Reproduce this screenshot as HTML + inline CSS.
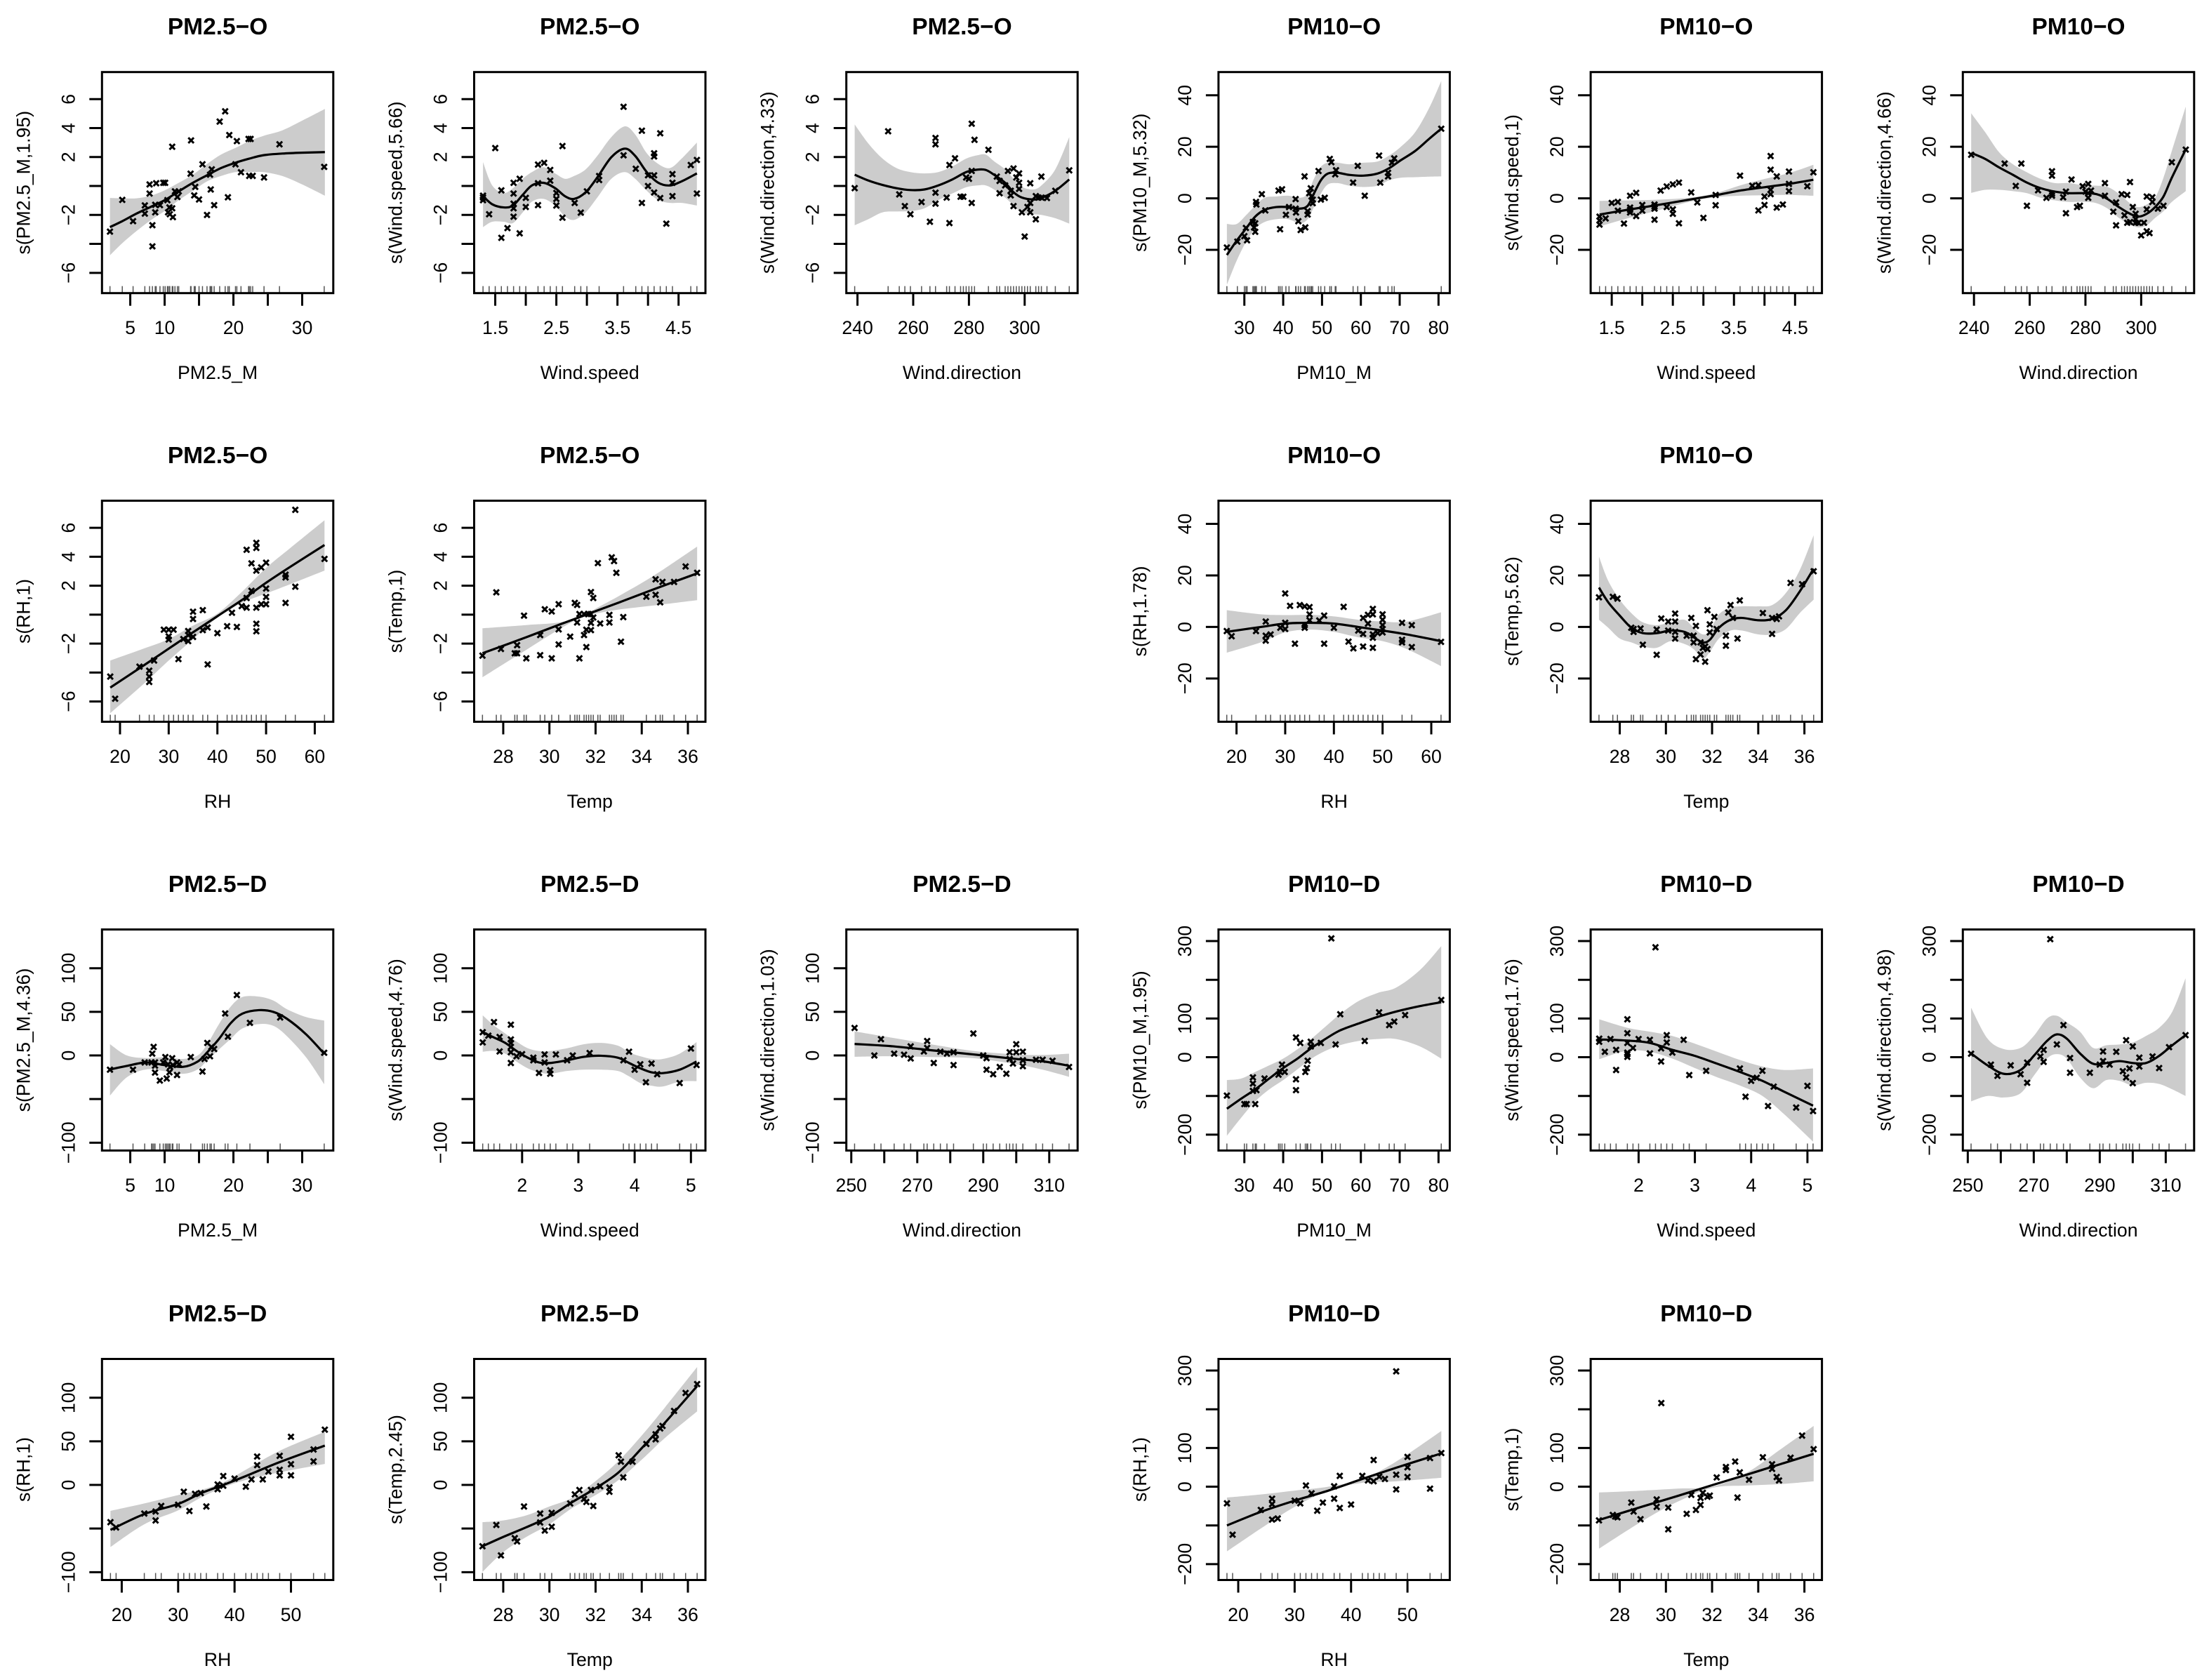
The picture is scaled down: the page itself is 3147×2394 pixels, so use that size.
<!DOCTYPE html>
<html lang="en">
<head>
<meta charset="utf-8">
<title>GAM smooth terms for PM2.5 and PM10</title>
<style>
html,body{margin:0;padding:0;background:#fff;}
svg{display:block;}
text{font-family:"Liberation Sans",Arial,sans-serif;fill:#000;font-size:26.7px;}
.title{font-size:33.5px;font-weight:bold;text-anchor:middle;}
.xlabel,.ylabel,.tick{text-anchor:middle;}
</style>
</head>
<body>
<svg id="figure" xmlns="http://www.w3.org/2000/svg" width="3147" height="2394" viewBox="0 0 3147 2394">
<rect width="3147" height="2394" fill="#fff"></rect>

<g class="panel"><text class="title">PM2.5−O</text><text class="xlabel">PM2.5_M</text><text class="ylabel">s(PM2.5_M,1.95)</text></g>
<g class="panel"><text class="title">PM2.5−O</text><text class="xlabel">Wind.speed</text><text class="ylabel">s(Wind.speed,5.66)</text></g>
<g class="panel"><text class="title">PM2.5−O</text><text class="xlabel">Wind.direction</text><text class="ylabel">s(Wind.direction,4.33)</text></g>
<g class="panel"><text class="title">PM10−O</text><text class="xlabel">PM10_M</text><text class="ylabel">s(PM10_M,5.32)</text></g>
<g class="panel"><text class="title">PM10−O</text><text class="xlabel">Wind.speed</text><text class="ylabel">s(Wind.speed,1)</text></g>
<g class="panel"><text class="title">PM10−O</text><text class="xlabel">Wind.direction</text><text class="ylabel">s(Wind.direction,4.66)</text></g>

<g class="panel"><text class="title">PM2.5−O</text><text class="xlabel">RH</text><text class="ylabel">s(RH,1)</text></g>
<g class="panel"><text class="title">PM2.5−O</text><text class="xlabel">Temp</text><text class="ylabel">s(Temp,1)</text></g>
<g class="panel"><text class="title">PM10−O</text><text class="xlabel">RH</text><text class="ylabel">s(RH,1.78)</text></g>
<g class="panel"><text class="title">PM10−O</text><text class="xlabel">Temp</text><text class="ylabel">s(Temp,5.62)</text></g>

<g class="panel"><text class="title">PM2.5−D</text><text class="xlabel">PM2.5_M</text><text class="ylabel">s(PM2.5_M,4.36)</text></g>
<g class="panel"><text class="title">PM2.5−D</text><text class="xlabel">Wind.speed</text><text class="ylabel">s(Wind.speed,4.76)</text></g>
<g class="panel"><text class="title">PM2.5−D</text><text class="xlabel">Wind.direction</text><text class="ylabel">s(Wind.direction,1.03)</text></g>
<g class="panel"><text class="title">PM10−D</text><text class="xlabel">PM10_M</text><text class="ylabel">s(PM10_M,1.95)</text></g>
<g class="panel"><text class="title">PM10−D</text><text class="xlabel">Wind.speed</text><text class="ylabel">s(Wind.speed,1.76)</text></g>
<g class="panel"><text class="title">PM10−D</text><text class="xlabel">Wind.direction</text><text class="ylabel">s(Wind.direction,4.98)</text></g>

<g class="panel"><text class="title">PM2.5−D</text><text class="xlabel">RH</text><text class="ylabel">s(RH,1)</text></g>
<g class="panel"><text class="title">PM2.5−D</text><text class="xlabel">Temp</text><text class="ylabel">s(Temp,2.45)</text></g>
<g class="panel"><text class="title">PM10−D</text><text class="xlabel">RH</text><text class="ylabel">s(RH,1)</text></g>
<g class="panel"><text class="title">PM10−D</text><text class="xlabel">Temp</text><text class="ylabel">s(Temp,1)</text></g>
</svg>

<script>
/* ---------- axis ticks and tick labels ---------- */
const ticksPm25 = [5,10,15,20,25,30];
const labelsPm25 = ["5","10","","20","","30"];
const ticksSpeedO = [1.5,2,2.5,3,3.5,4,4.5];
const labelsSpeedO = ["1.5","","2.5","","3.5","","4.5"];
const ticksDirO = [240,260,280,300];
const labelsDirO = ["240","260","280","300"];
const ticksPm10 = [30,40,50,60,70,80];
const labelsPm10 = ["30","40","50","60","70","80"];
const ticksRhO = [20,30,40,50,60];
const labelsRhO = ["20","30","40","50","60"];
const ticksTemp = [28,30,32,34,36];
const labelsTemp = ["28","30","32","34","36"];
const ticksSpeedD = [2,3,4,5];
const labelsSpeedD = ["2","3","4","5"];
const ticksDirD = [250,260,270,280,290,300,310];
const labelsDirD = ["250","","270","","290","","310"];
const ticksRhD = [20,30,40,50];
const labelsRhD = ["20","30","40","50"];

const yTicksPm25O = [6,4,2,0,-2,-4,-6];
const yLabelsPm25O = ["6","4","2","","−2","","−6"];
const yTicksPm10O = [40,20,0,-20];
const yLabelsPm10O = ["40","20","0","−20"];
const yTicksPm25D = [100,50,0,-50,-100];
const yLabelsPm25D = ["100","50","0","","−100"];
const yTicksPm10D = [300,200,100,0,-100,-200];
const yLabelsPm10D = ["300","","100","0","","−200"];

/* ---------- axis domains ---------- */
const domPm25 = [0.89,34.52];
const domSpeedO = [1.155,4.94];
const domDirO = [236,319];
const domPm10 = [23.34,82.9];
const domRhO = [16.3,63.8];
const domTemp = [26.74,36.76];
const domSpeedD = [1.148,5.258];
const domDirD = [248.5,318.6];
const domRhD = [16.5,57.5];
const yDomPm25O = [-7.4,7.87];
const yDomPm10O = [-36.8,49];
const yDomPm25D = [-109,144.5];
const yDomPm10D = [-241,330];

/* ---------- panel 1: PM2.5-O vs PM2.5_M ---------- */
const p1X = [2.05,3.84,5.41,7.12,7.12,7.81,7.81,8.77,8.22,8.22,8.63,8.63,9.32,9.8,10.07,10.4,10.5,10.7,10.75,11.1,11.2,11.1,11.5,11.85,12.05,13.77,13.84,14.45,14.3,15,15.5,16.16,16.6,16.7,16.85,17.2,18,18.8,19.2,19.4,20.3,20.5,21.1,22.2,22.5,22.3,22.8,24.45,26.7,33.2];
const p1Y = [-3.15,-.96,-2.43,-1.34,-1.91,-.52,.11,.19,-2.71,-4.17,-1.3,-1.82,-1.32,.22,.22,-.98,-1.82,-1.48,-1.95,-1.54,-2.15,2.71,-.37,-.76,-.37,.85,3.15,-.06,-.65,-.93,1.5,-2,.78,-.24,1.15,-1.32,4.45,5.16,-.78,3.52,1.5,3.1,.95,3.25,3.25,.7,.7,.59,2.88,1.32];
const p1CurveX = [2.05,3.84,5.89,7.95,10,12.05,14.1,16.16,18.2,20.3,22.3,24.4,27.1,29.9,33.3];
const p1Mean = [-2.84,-2.43,-1.91,-1.45,-.98,-.37,.22,.74,1.24,1.61,1.89,2.13,2.24,2.3,2.34];
const p1Upper = [-.83,-.85,-.85,-.67,-.3,.22,.78,1.52,2.17,2.63,3.1,3.47,3.84,4.49,5.32];
const p1Lower = [-4.79,-3.95,-3.12,-2.37,-1.73,-.98,-.33,.32,.69,.96,.96,.96,.69,.13,-.67];

/* ---------- panel 2: PM2.5-O vs Wind.speed ---------- */
const p2X = [1.3,1.3,1.3,1.4,1.5,1.6,1.6,1.7,1.8,1.8,1.8,1.8,1.8,1.9,1.9,2,2,2.2,2.2,2.2,2.3,2.4,2.4,2.5,2.5,2.5,2.6,2.6,2.8,2.9,3,3.2,3.2,3.6,3.6,3.8,3.9,3.9,4,4,4.1,4.1,4.1,4.1,4.2,4.2,4.3,4.4,4.4,4.4,4.7,4.8,4.8];
const p2Y = [-.8,-.98,-.67,-1.95,2.62,-.3,-3.58,-2.91,.22,-.52,-1.22,-1.54,-2.12,.5,-3.27,-.82,-1.45,1.48,.19,-1.32,1.6,1.11,.37,-.48,-.89,-1.35,2.76,-2.19,-1.17,-1.84,-.37,.69,.41,5.47,2.12,1.19,-1.17,3.82,.74,0,2.26,2.04,.74,-.45,3.64,-.83,-2.6,.82,.22,-.7,1.45,1.8,-.52];
const p2CurveX = [1.3,1.45,1.64,1.79,1.95,2.1,2.29,2.48,2.64,2.79,2.98,3.17,3.4,3.62,3.79,3.98,4.17,4.36,4.55,4.8];
const p2Mean = [-.7,-1.26,-1.48,-1.35,-.61,.04,.22,-.15,-.7,-.89,-.43,.59,1.99,2.58,2.08,.96,.22,.04,.32,.87];
const p2Upper = [1.65,.04,-.48,-.15,.5,.96,1.3,.87,.5,.69,1.15,2.08,3.38,4.12,3.56,2.26,1.52,1.24,1.89,3];
const p2Lower = [-2.84,-2.47,-2.47,-2.56,-1.82,-1.08,-.89,-1.35,-2.1,-2.34,-1.82,-.8,.5,.96,.5,-.33,-.98,-1.17,-1.17,-1.35];

/* ---------- panel 3: PM2.5-O vs Wind.direction ---------- */
const p3X = [239,251,255,257,259,263,266,268,268,268,268,272,273,273,275,277,278,279,280,281,281,281,282,287,290,291,291,293,294,295,295,296,296,297,298,298,298,299,300,301,302,302,302,304,304,305,306,306,308,311,316];
const p3Y = [-.15,3.78,-.58,-1.39,-1.95,-1.11,-2.47,3.32,2.88,-.46,-1.22,-.8,1.45,-2.56,1.91,-.74,-.74,.59,.5,1.04,4.3,-1.17,3.19,2.5,.65,.35,-.5,.04,1.04,-.33,-.65,1.21,-1.39,.59,.87,.22,-.2,-1.82,-3.49,-1.45,.19,-1.17,-1.82,-2.3,-.7,-.8,.65,-.8,-.83,-.33,1.08];
const p3CurveX = [239,244,249,254,259,264,269,274,279,283,286,289,293,296,299,303,306,311,316];
const p3Mean = [.78,.37,.07,-.15,-.28,-.24,.04,.45,.96,1.13,1.11,.78,.22,-.43,-.8,-.93,-.83,-.33,.45];
const p3Upper = [4.25,2.91,1.89,1.24,.96,.87,.96,1.34,1.89,2.12,2.17,1.71,1.15,.5,-.06,-.24,.04,1.15,3.38];
const p3Lower = [-2.71,-2.28,-1.82,-1.76,-1.73,-1.54,-.98,-.52,-.09,.04,.04,-.24,-.8,-1.35,-1.82,-1.95,-2,-2.23,-2.6];

/* ---------- panel 4: PM10-O vs PM10_M ---------- */
const p4X = [25.5,28.2,30.4,30,30.7,32.2,32.5,32.8,32.8,33,33.1,34.5,35.4,39.2,38.8,39.7,40.7,41.5,43.2,43.2,43.3,43.9,44.5,45.7,45.5,46.3,46.3,46.7,47.1,47.3,47.6,47.6,49.7,50.7,49.1,52,52.4,53.4,53.6,58,59.2,61,64.7,65,67,67,68,68.6,80.7];
const p4Y = [-19.1,-16.8,-11.5,-14.7,-16.3,-9.2,-11.3,-13,-9.7,-1.4,-2.4,1.6,-4.7,-12,3,3.5,-6.4,-3.4,-.3,-4,-5.5,-8.9,-12.3,-11.3,8.5,-5,-6.3,2,3.9,.7,-1.9,-.5,-.5,.2,10.6,15.3,14,9.3,10.9,6.1,12.6,1,16.6,6.1,9.9,8.5,13.8,15.5,27];
const p4CurveX = [25.5,28,30.4,32.8,35.2,38.2,41.3,44.3,46.3,47.9,49.7,51.5,54,57,60.6,64.3,67.3,70.3,74,77.6,80.7];
const p4Mean = [-22,-16.5,-11.8,-7.1,-4.5,-3.4,-3.4,-4,-2.9,1.8,7,9.6,9.9,9.1,8.8,9.6,11.7,14.8,18.4,23.1,27];
const p4Upper = [-9.9,-10,-6.6,-2.9,.2,.7,1,.2,1.8,7.5,12.2,13.8,13.8,13.2,13.8,14.3,16.6,20,25.7,35.1,45.5];
const p4Lower = [-33.6,-24.3,-17,-11.8,-9.2,-8.1,-8.1,-9.7,-8.1,-3.4,1.8,5.4,5.9,4.9,4.4,4.9,7,8,8.2,8.4,8.5];

/* ---------- panel 5: PM10-O vs Wind.speed ---------- */
const p5X = [1.3,1.3,1.3,1.4,1.5,1.6,1.6,1.7,1.8,1.8,1.8,1.8,1.9,1.9,2,2,2.2,2.2,2.2,2.2,2.3,2.4,2.4,2.5,2.5,2.5,2.6,2.6,2.8,2.9,3,3.2,3.2,3.6,3.8,3.9,3.9,4,4,4.1,4.1,4.1,4.1,4.2,4.2,4.3,4.4,4.4,4.4,4.7,4.8];
const p5Y = [-7.1,-8.6,-10.2,-7.8,-1.8,-1.4,-4.8,-9.8,1,-3.6,-5.5,-4.5,2.1,-6.9,-2.6,-4.8,-2.4,-4,-8.3,-3.2,3,4.6,-3.4,5.4,-4.3,-6,6.1,-9.7,2.3,-1.6,-7.6,1.3,-2.7,8.8,4.9,5.1,-4.7,.7,-2.6,16.4,11.1,3.3,1.6,8.5,-3.6,-2.4,10.4,5.6,2.8,4.7,10.1];
const p5CurveX = [1.3,1.8,2.3,2.8,3.2,3.6,4,4.4,4.8];
const p5Mean = [-6.3,-4.3,-2.4,-.4,1.2,3,4.3,5.6,7.2];
const p5Upper = [-1,-.8,-.5,.3,2,5,7.5,9.8,13];
const p5Lower = [-10.9,-7.5,-4.4,-1.2,.4,1,1.2,1.3,1];

/* ---------- panel 6: PM10-O vs Wind.direction ---------- */
const p6X = [239,251,255,257,259,263,266,268,268,268,268,272,273,273,275,277,278,279,280,281,281,281,282,287,287,290,291,291,293,294,295,295,296,296,297,298,298,298,299,300,301,302,302,302,303,304,304,306,308,311,316];
const p6Y = [16.9,13.5,4.8,13.5,-2.9,3.1,.2,10.5,8.8,1.8,1,.4,2.6,-5.8,7.3,-3.4,-2.9,4.7,2.6,5.6,2,.2,3,5.9,1,-5.2,-1.6,-10.5,1.6,-6.6,1.3,-9.5,6.3,-9.2,-3.4,-6,-8.1,-9.5,-9.5,-14.4,-9.5,.7,-4.3,-12.8,-13.5,.4,-1.4,-4,-2.9,14,18.9];
const p6CurveX = [239,244,249,254,259,264,269,274,280,284,288,292,296,299,302,305,308,311,316];
const p6Mean = [17.6,15.3,12,9.1,6.1,3.9,2.6,2,2,1.6,-.3,-3.4,-6,-7.1,-6,-3.4,.7,8,19];
const p6Upper = [33,25.7,17.9,13.2,10.1,7.5,5.9,5.9,4.9,4.9,4.4,1.8,-1.9,-3.4,-2.4,.2,8,18.4,35.6];
const p6Lower = [2.1,3.3,3.3,2.8,2,.2,-.8,-1.4,-1.4,-1.9,-4,-7.6,-10.2,-11.3,-10.5,-7.6,-5,-1.4,2.8];

/* ---------- panel 7: PM2.5-O vs RH ---------- */
const p7X = [18,19,24,26,26,26,27,29,30,30,30,31,32,33,34,34,34,35,35,35,37,37,38,38,40,42,43,44,45,46,46,46,47,47,48,48,48,48,48,48,49,49,50,50,50,50,54,54,54,56,56,62];
const p7Y = [-4.28,-5.81,-3.59,-3.87,-4.28,-4.65,-3.17,-1.04,-1.04,-1.5,-1.72,-1.04,-3.07,-1.69,-1.13,-1.41,-1.83,.2,-.3,-1.54,.31,-1.07,-.89,-3.44,-1.28,-.8,.13,-.85,.59,4.48,1.15,.48,3.54,1.65,4.96,4.61,3.04,.48,-.63,-1.15,3.26,.72,3.59,1.8,1.22,.72,2.76,2.57,.81,7.24,1.93,3.85];
const p7CurveX = [18,25,30,35,40,45,50,55,62];
const p7Mean = [-5.04,-3.48,-2.35,-1.22,-.11,1,2.2,3.31,4.81];
const p7Upper = [-3.17,-2.33,-1.69,-.76,.07,1.56,3.22,4.61,6.52];
const p7Lower = [-6.81,-4.74,-3.17,-1.69,-.2,.81,1.46,2.11,3.04];

/* ---------- panel 8: PM2.5-O vs Temp ---------- */
const p8X = [27.1,27.7,27.9,28.5,28.6,28.6,28.9,29,29.6,29.6,29.8,30.1,30.1,30.4,30.4,30.4,30.9,31.1,31.2,31.2,31.3,31.3,31.5,31.5,31.6,31.6,31.7,31.8,31.8,31.8,31.8,31.9,31.9,32.1,32.2,32.6,32.6,32.7,32.8,32.9,33.1,33.2,34.2,34.6,34.6,34.8,34.9,35.4,35.9,36.4];
const p8Y = [-2.83,1.54,-2.37,-2.67,-2.67,-2.11,-.07,-3.02,-2.8,-1.41,.37,.22,-3.02,.72,-1.02,-2.06,-1.52,.81,.67,-.54,-3.02,.04,.04,-1.41,-2.24,-1.04,.04,1.56,.04,-.57,-1.07,1.15,-.2,3.56,-.61,-.02,-.54,3.96,3.7,2.89,-1.87,-.17,1.24,2.44,1.37,.85,2.26,2.26,3.33,2.89];
const p8CurveX = [27.1,29,30.5,31.5,32,33,34.5,36.4];
const p8Mean = [-2.67,-1.56,-.65,-.06,.24,.83,1.74,2.85];
const p8Upper = [-.94,-.72,-.52,-.06,.41,1.28,2.67,4.7];
const p8Lower = [-4.33,-2.43,-.94,-.11,.07,.35,.63,1];

/* ---------- panel 9: PM10-O vs RH ---------- */
const p9X = [18,19,24,26,26,26,27,29,30,30,30,31,32,33,34,34,34,35,35,35,37,38,38,40,42,43,44,45,46,46,46,47,47,48,48,48,48,48,49,50,50,50,50,50,54,54,54,56,56,62];
const p9Y = [-1.6,-3.6,-1.6,2.1,-3.4,-5.3,-2.9,-.3,13,1.6,-.8,8.2,-6.5,8.5,8,.7,-.3,7.7,4.9,2.6,2.5,4.4,-6.5,-.3,7.8,-5.7,-8.3,-1.4,3.5,-2.7,-7.6,4.7,1.3,7,4.9,-2.9,-4.2,-8.1,-2.4,4.9,2.8,.7,-.8,-2.1,1.6,-5,-6,.7,-7.8,-5.8];
const p9CurveX = [18,25,30,35,40,45,50,55,62];
const p9Mean = [-1.9,0,1.3,1.6,1.3,0,-1.4,-2.9,-5.5];
const p9Upper = [6.5,4.9,4.6,4.7,4.1,2.8,2.1,2.1,5.7];
const p9Lower = [-10,-6,-2.1,-1,-1.9,-4,-5.5,-8.6,-15.2];

/* ---------- panel 10: PM10-O vs Temp ---------- */
const p10X = [27.1,27.7,27.9,28.5,28.6,28.6,28.9,29,29.6,29.6,29.8,30.1,30.1,30.4,30.4,30.4,30.4,30.9,31.1,31.2,31.2,31.3,31.3,31.5,31.5,31.6,31.7,31.7,31.8,31.8,31.9,31.9,32.1,32.2,32.6,32.6,32.7,32.8,32.9,33.1,33.2,34.2,34.6,34.6,34.8,34.9,35.4,35.9,36.4];
const p10Y = [11.5,11.7,11,-.3,-.8,-1.9,-.6,-6.9,-1,-10.8,3.3,2.1,-1.4,5.2,2.1,-1.9,-4.5,-3.4,3.5,-3.4,-6,.4,-12.5,-10.7,-6,-8.1,-13.5,-7.6,6.5,-8.6,1,-2.1,3.9,-.8,-3.4,-7.3,5.6,8.5,3.5,-4.5,10.3,5.4,3.5,-2.7,3.1,4.1,17.1,16.6,21.6];
const p10CurveX = [27.1,27.5,28,28.5,29,29.6,30.2,30.8,31.2,31.6,31.9,32.3,32.8,33.3,34,34.6,35.2,35.8,36.4];
const p10Mean = [15.3,9.6,4.4,-.3,-2.4,-2.4,-1.4,-1.9,-4,-6,-5,-.3,2.8,3.5,2.6,3.1,6.5,13.8,22.6];
const p10Upper = [27.3,17.9,10.6,5.4,1.8,.7,1.8,2.8,-.3,-2.9,-1.4,4.9,7.5,8,8,8.5,13.2,22.1,35.6];
const p10Lower = [2.8,-.3,-4.5,-6,-7.6,-8.1,-5.5,-6.6,-8.6,-12.3,-9.7,-4.5,-1.4,-1.4,-2.9,-2.9,-.8,5.4,10.6];

/* ---------- panel 11: PM2.5-D vs PM2.5_M ---------- */
const p11X = [2.05,5.4,7.1,8.2,8.4,8.1,8.6,8.6,8.6,9.3,9.8,10.1,10.3,10.5,10.7,10.8,11.1,11.2,11.8,12.1,11.8,13.8,15.5,15.8,16.2,16.6,16.8,17.2,18.8,19.2,20.5,22.4,26.8,33.2];
const p11Y = [-16.3,-16.3,-8,2.1,9.8,-8,-8,-11.7,-19.6,-28.8,-8,-1.8,-26.4,-10.1,-19.3,-13.2,-3.1,-11,-8,-10.1,-22.4,-1.8,-18.4,-4,14.4,-.9,9.8,7.4,48.2,21.5,69.3,37.4,43.6,3.1];
const p11CurveX = [2.05,4.5,7.3,10,12.7,14.8,16.2,17.9,19.6,21.3,23.7,25.8,27.8,30.6,33.2];
const p11Mean = [-16,-12,-8,-11,-13,-7,3.7,19,37,48,52,50,42,24,2];
const p11Upper = [13,0,-3,-2,-4,0,13,36,56,67,67.5,63,53,44,40];
const p11Lower = [-46,-25,-16,-18,-21,-16,-5.5,7,19,31,36,34,22,-2.5,-33];

/* ---------- panel 12: PM2.5-D vs Wind.speed ---------- */
const p12X = [1.3,1.3,1.4,1.5,1.6,1.6,1.8,1.8,1.8,1.8,1.8,1.8,1.9,2,2.2,2.2,2.3,2.4,2.4,2.5,2.5,2.6,2.8,2.9,3.2,3.8,3.9,4,4.1,4.2,4.3,4.4,4.8,5,5.1];
const p12Y = [26.7,15,22.7,38.3,21.2,4.6,35.3,18.4,14.4,9.8,3.7,-8.6,-.9,1.5,-2.5,-5.5,-20,1.2,-8,-16.9,-20.9,1.2,-5.5,0,2.8,-5.5,4.3,-16.3,-10.1,-30.7,-9.2,-21.5,-31.6,8,-11];
const p12CurveX = [1.3,1.5,1.7,1.9,2.1,2.3,2.5,2.8,3.1,3.4,3.7,3.9,4.1,4.3,4.5,4.8,5.1];
const p12Mean = [26.7,20.6,14.4,5.2,-2.5,-8,-8.6,-5.5,-1.5,-.3,-2.5,-8.6,-14.7,-19.3,-20.2,-16.3,-7];
const p12Upper = [46,34.4,25.2,16,8.3,5.2,5.2,8.3,12.9,14.4,11.3,3.7,-.9,-4,-4,2.1,15.3];
const p12Lower = [4.3,5.2,2.1,-7,-14.7,-19.3,-20.9,-17.8,-16.3,-16.3,-17.8,-23.9,-31.6,-34.7,-35.6,-30,-29.4];

/* ---------- panel 13: PM2.5-D vs Wind.direction ---------- */
const p13X = [251,257,259,263,266,268,268,272,273,273,275,277,279,281,281,287,290,291,291,293,295,297,298,298,299,300,300,302,302,302,306,308,311,316];
const p13Y = [31.6,0,18.7,2.1,.9,10.4,-3.4,4.6,16.6,8.6,-8.6,4.3,2.1,3.7,-11,25.2,0,-3.1,-16.3,-21.5,-13.2,-20.9,3.7,-4,-9.2,12.9,3.7,4.3,-5.5,-12.3,-4.9,-4.9,-6.1,-13.2];
const p13CurveX = [251,262,274,287,300,308,316];
const p13Mean = [13.2,10.7,6.1,1.2,-4,-6.7,-11.7];
const p13Upper = [27.6,20.6,12.9,5.2,1.2,.6,2.1];
const p13Lower = [-1.5,-.9,-1.8,-3.1,-10.1,-16.3,-24.5];

/* ---------- panel 14: PM10-D vs PM10_M ---------- */
const p14X = [25.5,30,30.6,32.8,32.2,32.2,32.2,33.1,35.2,38.8,39.2,39.7,40.4,43.3,43.3,43.3,44.4,45.7,46.1,46.3,47.1,47.1,49.7,52.4,53.5,54.7,61,64.7,67.3,68.6,71.4,80.7];
const p14Y = [-99,-121,-121,-121,-52,-68,-87,-85,-55,-45,-38,-19,-38,-57,-85,51,37,-38,-28,-9,40,28,37,307,33,111,42,116,83,92,109,148];
const p14CurveX = [25.5,29.2,32.8,36.4,40,43.7,47.3,51,54.6,59.4,64.3,69.1,75.2,80.7];
const p14Mean = [-133,-107,-83,-55,-28,-3.5,24,48,69,87,104,118,132,142];
const p14Upper = [-59,-55,-38,-21,-3.5,21,48,80,111,145,166,180,225,287];
const p14Lower = [-203,-156,-114,-83,-59,-31,-3.5,17,31,42,47,47,28,-3.5];

/* ---------- panel 15: PM10-D vs Wind.speed ---------- */
const p15X = [1.3,1.3,1.4,1.5,1.6,1.6,1.8,1.8,1.8,1.8,1.8,1.8,1.9,2,2.2,2.2,2.3,2.4,2.4,2.5,2.5,2.6,2.8,2.9,3.2,3.8,3.9,4,4.1,4.2,4.3,4.4,4.8,5,5.1];
const p15Y = [48,40,14,47,19,-33,98,62,37,12,1,8,24,47,45,10,284,23,-11,57,38,12,45,-46,-35,-29,-102,-61,-53,-35,-126,-76,-130,-74,-139];
const p15CurveX = [1.3,1.8,2.2,2.6,3,3.4,3.8,4.2,4.6,5.1];
const p15Mean = [46,43,37,19,3.5,-17,-38,-61,-90,-125];
const p15Upper = [98,76,66,55,35,14,-7,-24,-33,-29];
const p15Lower = [-5,17,14,-3.5,-28,-52,-73,-100,-149,-218];

/* ---------- panel 16: PM10-D vs Wind.direction ---------- */
const p16X = [251,257,259,263,266,268,268,272,273,273,275,277,279,281,281,287,290,291,291,293,295,297,298,298,299,300,300,302,302,306,308,311,316];
const p16Y = [9,-19,-48,-21,-44,-14,-66,2,19,-12,305,33,83,-2,-40,-40,-19,15,-10,-19,14,-36,44,-52,-29,28,-67,-1,-24,2,-28,26,57];
const p16CurveX = [251,256,261,266,270,274,277,280,284,288,292,296,300,304,308,312,316];
const p16Mean = [10,-21,-43,-33,3.5,42,59,48,10,-17,-15,-10,-15,-15,3.5,31,57];
const p16Upper = [128,48,21,24,55,100,107,90,66,24,31,33,38,55,76,118,204];
const p16Lower = [-114,-100,-104,-93,-48,-3.5,8,-3.5,-52,-80,-59,-61,-73,-66,-69,-83,-100];

/* ---------- panel 17: PM2.5-D vs RH ---------- */
const p17X = [18,19,24,26,26,27,30,31,32,33,34,35,37,37,38,38,40,42,43,44,44,45,46,48,48,48,50,50,50,54,54,56];
const p17Y = [-42.7,-48.8,-32.8,-30.5,-40.7,-24.1,-22.7,-7.8,-29.9,-10.2,-9.3,-24.7,.6,-4.9,10.2,-.9,7.3,-2,6.4,32.6,22.7,6.4,15.4,33.4,17.4,11,55.2,23.8,11,40.7,27,63.4];
const p17CurveX = [18,24,30,34,38,42,48,56];
const p17Mean = [-51.5,-33.4,-21.8,-9.6,0,10.2,26.2,45.1];
const p17Upper = [-29.7,-21.2,-11.6,-5.8,2.9,17.4,39.2,61];
const p17Lower = [-71.2,-45.1,-29.1,-14.5,-2.9,5.8,14.5,24.1];

/* ---------- panel 18: PM2.5-D vs Temp ---------- */
const p18X = [27.1,27.7,27.9,28.5,28.6,28.9,29.6,29.6,29.8,30.1,30.1,30.9,31.1,31.3,31.5,31.6,31.8,31.9,32.2,32.6,32.6,33,33.1,33.2,33.6,34.2,34.6,34.6,34.8,34.9,35.4,35.9,36.4];
const p18Y = [-70.3,-45.9,-80.8,-61,-64.8,-24.7,-32.8,-43,-52.3,-32,-48,-21.2,-10.8,-5.8,-16,-19.5,-5.8,-24.1,-1.5,-2.9,-7.8,34,26.7,8.7,26.7,47,58.1,52.3,64.8,67.7,84.9,105.5,115.7];
const p18CurveX = [27.1,28,29,30,31,32,33,34,35,36.4];
const p18Mean = [-70.3,-59.6,-48.5,-36.3,-19.5,-3.8,14.5,42.2,71.2,113.4];
const p18Upper = [-42.7,-40.7,-34.9,-24.7,-14.5,4.4,27.6,56.7,88.7,135.2];
const p18Lower = [-99.7,-77,-59.6,-45,-26.2,-11.6,5.8,29,53.8,84.3];

/* ---------- panel 19: PM10-D vs RH ---------- */
const p19X = [18,19,24,26,26,26,27,30,31,32,33,34,35,37,37,38,38,40,42,43,44,44,45,46,48,48,48,50,50,50,54,54,56];
const p19Y = [-43,-124,-60,-31,-45,-85,-82,-36,-43,3,-17,-62,-41,1,-31,28,-55,-46,28,16,69,14,26,20,298,31,-7,77,50,25,74,-5,87];
const p19CurveX = [18,24,30,36,42,48,56];
const p19Mean = [-100,-65,-36,-10,20,49,86];
const p19Upper = [-28,-20,-10,0,20,65,144];
const p19Lower = [-167,-108,-52,-10,10,14,23];

/* ---------- panel 20: PM10-D vs Temp ---------- */
const p20X = [27.1,27.7,27.8,27.9,28.5,28.6,28.9,29.6,29.6,29.8,30.1,30.1,30.9,31.1,31.3,31.5,31.5,31.6,31.8,31.9,32.2,32.6,32.6,33,33.1,33.2,33.6,34.2,34.6,34.6,34.8,34.9,35.4,35.9,36.4];
const p20Y = [-87,-73,-77,-79,-41,-64,-84,-33,-52,216,-54,-110,-70,-21,-60,-29,-47,-16,-26,-23,24,51,43,65,-28,37,18,76,58,46,25,16,75,132,97];
const p20CurveX = [27.1,29,30.5,32,33.5,35,36.4];
const p20Mean = [-86,-51,-24,4,31,59,85];
const p20Upper = [-15,-10,-5,0,36,98,157];
const p20Lower = [-160,-88,-39,-3,3,7,14];

/* ---------- panel wiring (same order as the markup) ---------- */
const panelSeries = [
 {x:p1X,y:p1Y,cx:p1CurveX,mean:p1Mean,up:p1Upper,lo:p1Lower,xd:domPm25,yd:yDomPm25O,xt:ticksPm25,xl:labelsPm25,yt:yTicksPm25O,yl:yLabelsPm25O},
 {x:p2X,y:p2Y,cx:p2CurveX,mean:p2Mean,up:p2Upper,lo:p2Lower,xd:domSpeedO,yd:yDomPm25O,xt:ticksSpeedO,xl:labelsSpeedO,yt:yTicksPm25O,yl:yLabelsPm25O},
 {x:p3X,y:p3Y,cx:p3CurveX,mean:p3Mean,up:p3Upper,lo:p3Lower,xd:domDirO,yd:yDomPm25O,xt:ticksDirO,xl:labelsDirO,yt:yTicksPm25O,yl:yLabelsPm25O},
 {x:p4X,y:p4Y,cx:p4CurveX,mean:p4Mean,up:p4Upper,lo:p4Lower,xd:domPm10,yd:yDomPm10O,xt:ticksPm10,xl:labelsPm10,yt:yTicksPm10O,yl:yLabelsPm10O},
 {x:p5X,y:p5Y,cx:p5CurveX,mean:p5Mean,up:p5Upper,lo:p5Lower,xd:domSpeedO,yd:yDomPm10O,xt:ticksSpeedO,xl:labelsSpeedO,yt:yTicksPm10O,yl:yLabelsPm10O},
 {x:p6X,y:p6Y,cx:p6CurveX,mean:p6Mean,up:p6Upper,lo:p6Lower,xd:domDirO,yd:yDomPm10O,xt:ticksDirO,xl:labelsDirO,yt:yTicksPm10O,yl:yLabelsPm10O},
 {x:p7X,y:p7Y,cx:p7CurveX,mean:p7Mean,up:p7Upper,lo:p7Lower,xd:domRhO,yd:yDomPm25O,xt:ticksRhO,xl:labelsRhO,yt:yTicksPm25O,yl:yLabelsPm25O},
 {x:p8X,y:p8Y,cx:p8CurveX,mean:p8Mean,up:p8Upper,lo:p8Lower,xd:domTemp,yd:yDomPm25O,xt:ticksTemp,xl:labelsTemp,yt:yTicksPm25O,yl:yLabelsPm25O},
 {x:p9X,y:p9Y,cx:p9CurveX,mean:p9Mean,up:p9Upper,lo:p9Lower,xd:domRhO,yd:yDomPm10O,xt:ticksRhO,xl:labelsRhO,yt:yTicksPm10O,yl:yLabelsPm10O},
 {x:p10X,y:p10Y,cx:p10CurveX,mean:p10Mean,up:p10Upper,lo:p10Lower,xd:domTemp,yd:yDomPm10O,xt:ticksTemp,xl:labelsTemp,yt:yTicksPm10O,yl:yLabelsPm10O},
 {x:p11X,y:p11Y,cx:p11CurveX,mean:p11Mean,up:p11Upper,lo:p11Lower,xd:domPm25,yd:yDomPm25D,xt:ticksPm25,xl:labelsPm25,yt:yTicksPm25D,yl:yLabelsPm25D},
 {x:p12X,y:p12Y,cx:p12CurveX,mean:p12Mean,up:p12Upper,lo:p12Lower,xd:domSpeedD,yd:yDomPm25D,xt:ticksSpeedD,xl:labelsSpeedD,yt:yTicksPm25D,yl:yLabelsPm25D},
 {x:p13X,y:p13Y,cx:p13CurveX,mean:p13Mean,up:p13Upper,lo:p13Lower,xd:domDirD,yd:yDomPm25D,xt:ticksDirD,xl:labelsDirD,yt:yTicksPm25D,yl:yLabelsPm25D},
 {x:p14X,y:p14Y,cx:p14CurveX,mean:p14Mean,up:p14Upper,lo:p14Lower,xd:domPm10,yd:yDomPm10D,xt:ticksPm10,xl:labelsPm10,yt:yTicksPm10D,yl:yLabelsPm10D},
 {x:p15X,y:p15Y,cx:p15CurveX,mean:p15Mean,up:p15Upper,lo:p15Lower,xd:domSpeedD,yd:yDomPm10D,xt:ticksSpeedD,xl:labelsSpeedD,yt:yTicksPm10D,yl:yLabelsPm10D},
 {x:p16X,y:p16Y,cx:p16CurveX,mean:p16Mean,up:p16Upper,lo:p16Lower,xd:domDirD,yd:yDomPm10D,xt:ticksDirD,xl:labelsDirD,yt:yTicksPm10D,yl:yLabelsPm10D},
 {x:p17X,y:p17Y,cx:p17CurveX,mean:p17Mean,up:p17Upper,lo:p17Lower,xd:domRhD,yd:yDomPm25D,xt:ticksRhD,xl:labelsRhD,yt:yTicksPm25D,yl:yLabelsPm25D},
 {x:p18X,y:p18Y,cx:p18CurveX,mean:p18Mean,up:p18Upper,lo:p18Lower,xd:domTemp,yd:yDomPm25D,xt:ticksTemp,xl:labelsTemp,yt:yTicksPm25D,yl:yLabelsPm25D},
 {x:p19X,y:p19Y,cx:p19CurveX,mean:p19Mean,up:p19Upper,lo:p19Lower,xd:domRhD,yd:yDomPm10D,xt:ticksRhD,xl:labelsRhD,yt:yTicksPm10D,yl:yLabelsPm10D},
 {x:p20X,y:p20Y,cx:p20CurveX,mean:p20Mean,up:p20Upper,lo:p20Lower,xd:domTemp,yd:yDomPm10D,xt:ticksTemp,xl:labelsTemp,yt:yTicksPm10D,yl:yLabelsPm10D}
];

/* ---------- layout ---------- */
const colLeft = [145.3,675.5,1205.7,1735.9,2266.1,2796.3];
const rowTop = [102.7,713.5,1324.5,1936.5];
const frameW = 329.5;
const frameH = 315;
const gridSlots = [[0,0],[0,1],[0,2],[0,3],[0,4],[0,5],[1,0],[1,1],[1,3],[1,4],[2,0],[2,1],[2,2],[2,3],[2,4],[2,5],[3,0],[3,1],[3,3],[3,4]];
const NS = 'http://www.w3.org/2000/svg';

function make(tag, parent){
  const el = document.createElementNS(NS, tag);
  parent.appendChild(el);
  return el;
}
function linearScale(dom, a, b){
  return function(v){ return a + (v - dom[0]) / (dom[1] - dom[0]) * (b - a); };
}
/* Catmull-Rom segments through screen points, without the initial move */
function smoothSegments(pts){
  let d = '';
  for (let i = 0; i < pts.length - 1; i++){
    const p0 = pts[Math.max(i-1,0)], p1 = pts[i], p2 = pts[i+1], p3 = pts[Math.min(i+2,pts.length-1)];
    const c1x = p1[0] + (p2[0]-p0[0])/6, c1y = p1[1] + (p2[1]-p0[1])/6;
    const c2x = p2[0] - (p3[0]-p1[0])/6, c2y = p2[1] - (p3[1]-p1[1])/6;
    d += 'C' + c1x.toFixed(2) + ' ' + c1y.toFixed(2) + ' ' + c2x.toFixed(2) + ' ' + c2y.toFixed(2) + ' ' + p2[0].toFixed(2) + ' ' + p2[1].toFixed(2);
  }
  return d;
}
function startOf(pts){ return pts[0][0].toFixed(2) + ' ' + pts[0][1].toFixed(2); }

const panelGroups = document.querySelectorAll('g.panel');
panelGroups.forEach(function(g, idx){
  const s = panelSeries[idx];
  const slot = gridSlots[idx];
  const left = colLeft[slot[1]], top = rowTop[slot[0]];
  const right = left + frameW, bottom = top + frameH;
  const sx = linearScale(s.xd, left, right);
  const sy = linearScale(s.yd, bottom, top);
  const midX = (left + right) / 2, midY = (top + bottom) / 2;

  const title = g.querySelector('.title');
  title.setAttribute('x', midX);
  title.setAttribute('y', top - 53.7);
  const xlabel = g.querySelector('.xlabel');
  xlabel.setAttribute('x', midX);
  xlabel.setAttribute('y', bottom + 122.5);
  const ylabel = g.querySelector('.ylabel');
  ylabel.setAttribute('transform', 'translate(' + (left - 103) + ' ' + midY + ') rotate(-90)');

  /* confidence band */
  const upPts = s.cx.map(function(v,i){ return [sx(v), sy(s.up[i])]; });
  const loPts = s.cx.map(function(v,i){ return [sx(v), sy(s.lo[i])]; }).reverse();
  const band = make('path', g);
  
  
  band.setAttribute('fill', '#cccccc');
  band.setAttribute('d', 'M' + startOf(upPts) + smoothSegments(upPts) + 'L' + startOf(loPts) + smoothSegments(loPts) + 'Z');

  /* rug */
  Array.from(new Set(s.x)).forEach(function(v){
    const rug = make('line', g);
    
    
    rug.setAttribute('x1', sx(v));
    rug.setAttribute('x2', sx(v));
    rug.setAttribute('y1', bottom - 10);
    rug.setAttribute('y2', bottom);
    rug.setAttribute('stroke', '#555');
    rug.setAttribute('stroke-width', '1.5');
  });

  /* partial residual points */
  s.x.forEach(function(v,i){
    const cx = sx(v), cy = sy(s.y[i]), h = 3.9;
    const pt = make('path', g);
    
    
    pt.setAttribute('fill', 'none');
    pt.setAttribute('stroke', '#000');
    pt.setAttribute('stroke-width', '3');
    pt.setAttribute('d', 'M' + (cx-h) + ' ' + (cy-h) + 'L' + (cx+h) + ' ' + (cy+h) + 'M' + (cx-h) + ' ' + (cy+h) + 'L' + (cx+h) + ' ' + (cy-h));
  });

  /* fitted smooth */
  const meanPts = s.cx.map(function(v,i){ return [sx(v), sy(s.mean[i])]; });
  const line = make('path', g);
  
  
  line.setAttribute('fill', 'none');
  line.setAttribute('stroke', '#000');
  line.setAttribute('stroke-width', '3.2');
  line.setAttribute('d', 'M' + startOf(meanPts) + smoothSegments(meanPts));

  /* frame */
  const frame = make('rect', g);
  
  
  frame.setAttribute('x', left);
  frame.setAttribute('y', top);
  frame.setAttribute('width', frameW);
  frame.setAttribute('height', frameH);
  frame.setAttribute('fill', 'none');
  frame.setAttribute('stroke', '#000');
  frame.setAttribute('stroke-width', '3');

  /* x axis */
  s.xt.forEach(function(v,i){
    const tick = make('line', g);
    
    
    tick.setAttribute('x1', sx(v));
    tick.setAttribute('x2', sx(v));
    tick.setAttribute('y1', bottom);
    tick.setAttribute('y2', bottom + 18);
    tick.setAttribute('stroke', '#000');
    tick.setAttribute('stroke-width', '3');
    if (s.xl[i]){
      const lab = make('text', g);
      
      
      lab.setAttribute('class', 'tick');
      lab.setAttribute('x', sx(v));
      lab.setAttribute('y', bottom + 58.5);
      lab.textContent = s.xl[i];
    }
  });

  /* y axis */
  s.yt.forEach(function(v,i){
    const tick = make('line', g);
    
    
    tick.setAttribute('x1', left - 18);
    tick.setAttribute('x2', left);
    tick.setAttribute('y1', sy(v));
    tick.setAttribute('y2', sy(v));
    tick.setAttribute('stroke', '#000');
    tick.setAttribute('stroke-width', '3');
    if (s.yl[i]){
      const lab = make('text', g);
      
      
      lab.setAttribute('class', 'tick');
      lab.setAttribute('transform', 'translate(' + (left - 39) + ' ' + sy(v) + ') rotate(-90)');
      lab.textContent = s.yl[i];
    }
  });
});
</script>
</body>
</html>
